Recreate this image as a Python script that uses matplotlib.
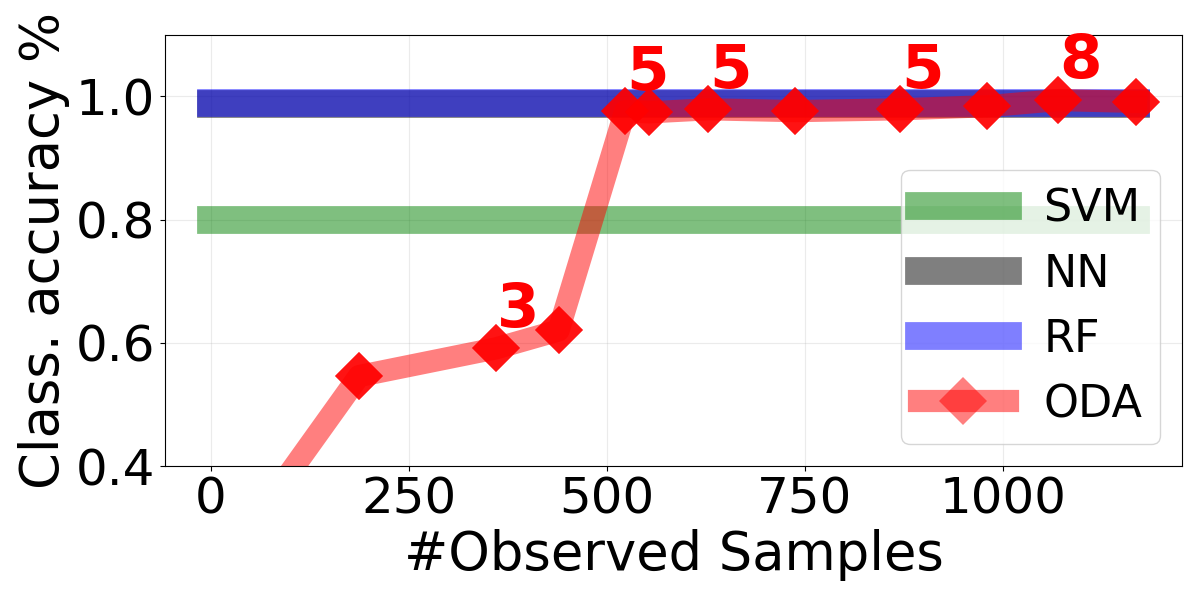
import numpy as np
import matplotlib
matplotlib.use("Agg")
from matplotlib import pyplot as plt

# baselines (constant accuracies)
baseline_x = [0, 1168]
svm_acc = 0.80
nn_acc = 0.988
rf_acc = 0.990

# ODA curve
oda_x = [0, 187, 360, 439, 523, 553, 628, 738, 870, 980, 1070, 1168]
oda_y = [0.21, 0.546, 0.591, 0.620, 0.976, 0.974, 0.979, 0.976, 0.979, 0.984, 0.994, 0.991]

# numbers written above some ODA points
label_idx = [2, 4, 6, 8, 10]
label_txt = ["3", "5", "5", "5", "8"]

fig = plt.figure(figsize=(11.96, 5.99), dpi=100)
ax = fig.add_axes([0.1376, 0.222, 0.851, 0.720])

ax.plot(baseline_x, [svm_acc, svm_acc], color="g", lw=20, alpha=0.5, label="SVM")
ax.plot(baseline_x, [nn_acc, nn_acc], color="k", lw=20, alpha=0.5, label="NN")
ax.plot(baseline_x, [rf_acc, rf_acc], color="b", lw=20, alpha=0.5, label="RF")
ax.plot(oda_x, oda_y, color="r", lw=16, alpha=0.5, marker="D", ms=24,
        markeredgewidth=0, label="ODA")
ax.plot(oda_x, oda_y, color="r", lw=0, alpha=0.85, marker="D", ms=24,
        markeredgewidth=0)

for i, t in zip(label_idx, label_txt):
    ax.text(oda_x[i] + 28, oda_y[i] + 0.035, t, color="r", fontsize=44,
            fontweight="bold", ha="center", va="baseline")

ax.set_ylim(0.4, 1.1)
ax.set_xlim(-58.4, 1226.4)
ax.set_xticks([0, 250, 500, 750, 1000])
ax.set_yticks([0.4, 0.6, 0.8, 1.0])
ax.tick_params(labelsize=36)
ax.grid(alpha=0.25)
ax.set_xlabel("#Observed Samples", fontsize=38)
ax.set_ylabel("Class. accuracy %", fontsize=38)
ax.legend(loc="lower right", fontsize=32)

plt.savefig("out.png", dpi=100)
